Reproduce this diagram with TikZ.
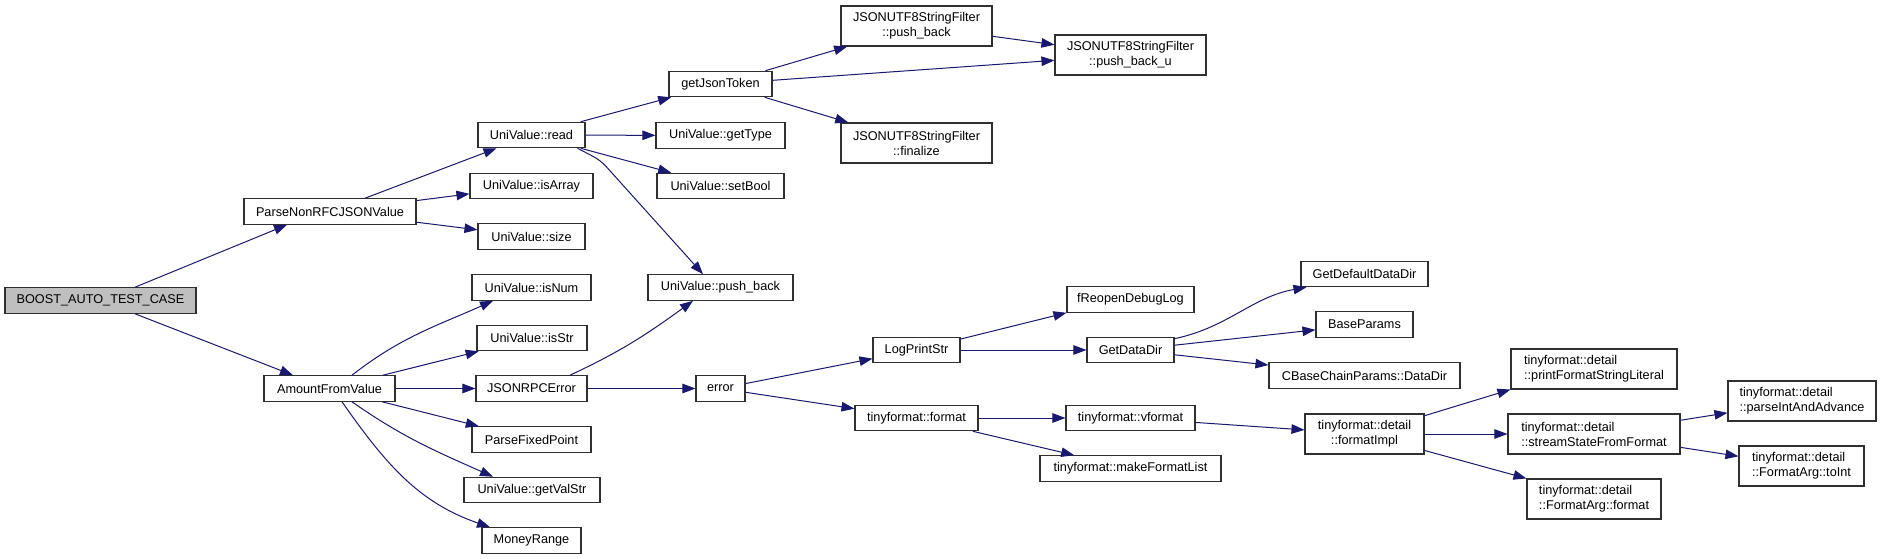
\documentclass[tikz,border=0pt]{standalone}
\usepackage{fontspec}
\setmainfont{Liberation Sans}
\usepackage{xcolor}
\usepackage{tikz}
\usetikzlibrary{arrows.meta}
\definecolor{cgnavy}{HTML}{191970}
\definecolor{cgline}{HTML}{303030}
\definecolor{cgroot}{HTML}{BFBFBF}

\begin{document}
\begin{tikzpicture}[
  x=1pt,y=1pt,
  font=\fontsize{12.7pt}{15pt}\selectfont,
  fn/.style={draw=cgline,line width=1.1pt,fill=white,inner sep=0pt,minimum height=25.5pt},
  root/.style={fn,fill=cgroot},
  fntwo/.style={fn,minimum height=40pt,align=center},
  fnleft/.style={fntwo,align=left},
  ar/.style={-{Triangle[length=13pt,width=9.5pt]},cgnavy,line width=1pt}]
  \useasboundingbox (0,0) rectangle (1881,-559);
  % caller and first level
  \node[root,minimum width=191pt] (boost) at (100.5,-300.5) {BOOST\_AUTO\_TEST\_CASE};
  \node[fn,minimum width=172pt] (parse) at (330,-211.5) {ParseNonRFCJSONValue};
  \node[fn,minimum width=131pt] (amount) at (329.5,-388.5) {AmountFromValue};
  % UniValue column
  \node[fn,minimum width=107pt] (read) at (531.5,-135) {UniValue::read};
  \node[fn,minimum width=123pt] (isarray) at (531.5,-186) {UniValue::isArray};
  \node[fn,minimum width=107pt] (size) at (531.5,-236.5) {UniValue::size};
  \node[fn,minimum width=119pt] (isnum) at (531.5,-287.5) {UniValue::isNum};
  \node[fn,minimum width=110pt] (isstr) at (532,-338) {UniValue::isStr};
  \node[fn,minimum width=111pt] (rpcerr) at (531.5,-388.5) {JSONRPCError};
  \node[fn,minimum width=119pt] (fixed) at (531.5,-439.5) {ParseFixedPoint};
  \node[fn,minimum width=136pt] (valstr) at (532,-490) {UniValue::getValStr};
  \node[fn,minimum width=99pt] (money) at (531.5,-540.5) {MoneyRange};
  % third column
  \node[fn,minimum width=103pt] (token) at (720.5,-84) {getJsonToken};
  \node[fn,minimum width=129pt] (gettype) at (720.5,-135.5) {UniValue::getType};
  \node[fn,minimum width=127pt] (setbool) at (720.5,-186) {UniValue::setBool};
  \node[fn,minimum width=145pt] (pushback) at (720.5,-287.5) {UniValue::push\_back};
  \node[fn,minimum width=49pt] (error) at (720.5,-388.5) {error};
  % fourth column
  \node[fntwo,minimum width=151pt] (fpush) at (916.5,-26) {JSONUTF8StringFilter\\::push\_back};
  \node[fntwo,minimum width=151pt] (ffinal) at (916.5,-143) {JSONUTF8StringFilter\\::finalize};
  \node[fn,minimum width=87pt] (logprint) at (916.5,-350) {LogPrintStr};
  \node[fn,minimum width=123pt] (tfformat) at (916.5,-418) {tinyformat::format};
  % fifth column
  \node[fntwo,minimum width=151pt] (fpushu) at (1130.5,-55) {JSONUTF8StringFilter\\::push\_back\_u};
  \node[fn,minimum width=127pt] (freopen) at (1130.5,-299.5) {fReopenDebugLog};
  \node[fn,minimum width=87pt] (datadir) at (1130.5,-350) {GetDataDir};
  \node[fn,minimum width=129pt] (vformat) at (1130.5,-418) {tinyformat::vformat};
  \node[fn,minimum width=181pt] (mkfmtlist) at (1130.5,-468.5) {tinyformat::makeFormatList};
  % sixth column
  \node[fn,minimum width=127pt] (defdatadir) at (1364.5,-274) {GetDefaultDataDir};
  \node[fn,minimum width=97pt] (baseparams) at (1364.5,-324.5) {BaseParams};
  \node[fn,minimum width=191pt] (chaindatadir) at (1364.5,-375.5) {CBaseChainParams::DataDir};
  \node[fntwo,minimum width=119pt] (fmtimpl) at (1364.5,-434) {tinyformat::detail\\::formatImpl};
  % tinyformat::detail
  \node[fnleft,minimum width=166pt] (printlit) at (1594,-369) {tinyformat::detail\\::printFormatStringLiteral};
  \node[fnleft,minimum width=172pt] (streamstate) at (1594,-434) {tinyformat::detail\\::streamStateFromFormat};
  \node[fnleft,minimum width=134pt] (argformat) at (1594,-499) {tinyformat::detail\\::FormatArg::format};
  \node[fnleft,minimum width=148pt] (parseint) at (1802,-401) {tinyformat::detail\\::parseIntAndAdvance};
  \node[fnleft,minimum width=125pt] (toint) at (1801.5,-466) {tinyformat::detail\\::FormatArg::toInt};
  % calls
  \draw[ar] ([xshift=34.5pt]boost.north) -- ([xshift=-43pt]parse.south);
  \draw[ar] ([xshift=34.5pt]boost.south) -- ([xshift=-36.5pt]amount.north);
  \draw[ar] (parse) -- (read); \draw[ar] (parse) -- (isarray); \draw[ar] (parse) -- (size);
  \draw[ar] ([xshift=22.5pt]amount.north) to[out=38,in=204] ([xshift=-38.5pt]isnum.south);
  \draw[ar] (amount) -- (isstr); \draw[ar] (amount) -- (rpcerr); \draw[ar] (amount) -- (fixed);
  \draw[ar] ([xshift=22.5pt]amount.south) to[out=-35,in=156] ([xshift=-39pt]valstr.north);
  \draw[ar] ([xshift=12.5pt]amount.south) to[out=-55,in=161] ([xshift=-41.5pt]money.north);
  \draw[ar] ([xshift=38.5pt]rpcerr.north) to[out=25,in=216] ([xshift=-27.5pt]pushback.south);
  \draw[ar] (rpcerr) -- (error);
  \draw[ar] (read) -- (token); \draw[ar] (read) -- (gettype); \draw[ar] (read) -- (setbool);
  \draw[ar,rounded corners=8pt] ([xshift=-8pt]read.south east) -- ++(23,-12) -- ([xshift=-17.5pt]pushback.north);
  \draw[ar] (token) -- (fpush); \draw[ar] (token) -- (fpushu); \draw[ar] (token) -- (ffinal);
  \draw[ar] (fpush) -- (fpushu);
  \draw[ar] (error) -- (logprint); \draw[ar] (error) -- (tfformat);
  \draw[ar] (logprint) -- (freopen.south west); \draw[ar] (logprint) -- (datadir);
  \draw[ar] (tfformat) -- (vformat); \draw[ar] (tfformat) -- (mkfmtlist);
  \draw[ar] ([yshift=-2pt]datadir.north east) to[out=12,in=190] ([xshift=6pt]defdatadir.south west);
  \draw[ar] (datadir) -- (baseparams); \draw[ar] (datadir) -- (chaindatadir);
  \draw[ar] (vformat) -- (fmtimpl);
  \draw[ar] (fmtimpl) -- (printlit.south west); \draw[ar] (fmtimpl) -- (streamstate);
  \draw[ar] (fmtimpl) -- (argformat.north west);
  \draw[ar] (streamstate) -- (parseint); \draw[ar] (streamstate) -- (toint);
\end{tikzpicture}
\end{document}
